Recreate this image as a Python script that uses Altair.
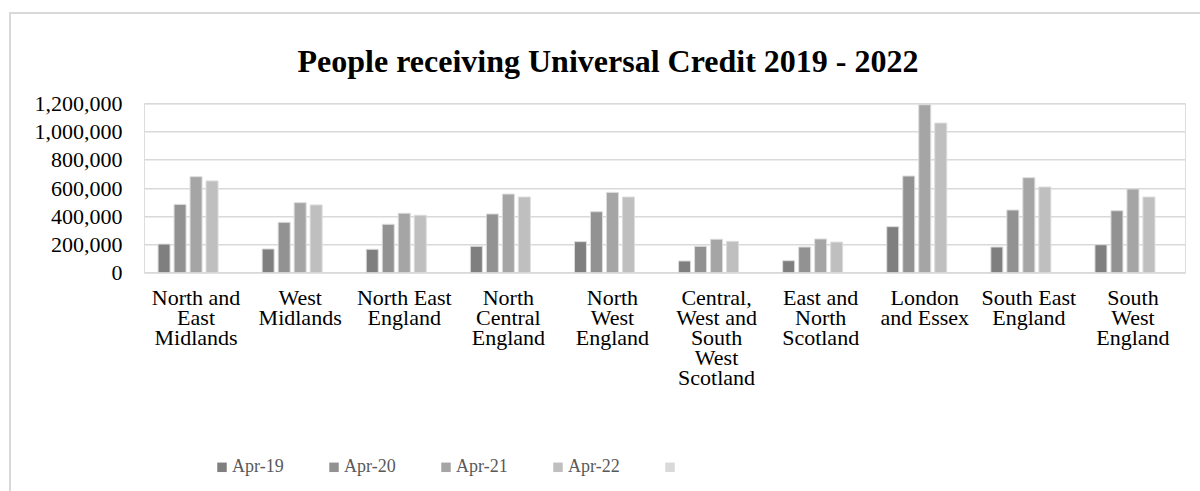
import altair as alt
import pandas as pd
import json

regions = [
    "North and East Midlands", "West Midlands", "North East England",
    "North Central England", "North West England",
    "Central, West and South West Scotland", "East and North Scotland",
    "London and Essex", "South East England", "South West England",
]
region_labels = [
    ["North and", "East", "Midlands"], ["West", "Midlands"], ["North East", "England"],
    ["North", "Central", "England"], ["North", "West", "England"],
    ["Central,", "West and", "South", "West", "Scotland"], ["East and", "North", "Scotland"],
    ["London", "and Essex"], ["South East", "England"], ["South", "West", "England"],
]
series = ["Apr-19", "Apr-20", "Apr-21", "Apr-22", " "]
colors = ["#7f7f7f", "#929292", "#a5a5a5", "#bfbfbf", "#d9d9d9"]

apr19 = [203000, 168000, 166000, 187000, 220000, 83000, 85000, 326000, 182000, 198000]
apr20 = [484000, 357000, 343000, 416000, 432000, 187000, 182000, 685000, 444000, 439000]
apr21 = [680000, 496000, 421000, 557000, 569000, 237000, 239000, 1190000, 673000, 593000]
apr22 = [650000, 480000, 407000, 536000, 536000, 222000, 217000, 1060000, 607000, 536000]

title_text = "People receiving Universal Credit 2019 - 2022"

rows = []
for s, vals in zip(series[:4], [apr19, apr20, apr21, apr22]):
    for r, v in zip(regions, vals):
        rows.append({"region": r, "series": s, "value": v})
df = pd.DataFrame(rows)

label_map = json.dumps(dict(zip(regions, region_labels)))

W, H = 1041, 169.4
PL, PT = 144, 103.3

bars = alt.Chart(df).mark_bar(stroke="#dcdcdc", strokeWidth=1).encode(
    x=alt.X("region:N", sort=regions,
            scale=alt.Scale(paddingInner=0, paddingOuter=0),
            axis=alt.Axis(title=None, labelAngle=0, domain=False, ticks=False,
                          labelExpr=f"{label_map}[datum.value]",
                          labelFont="Liberation Serif", labelFontSize=22,
                          labelColor="#000000", labelLineHeight=20,
                          labelPadding=15, labelOverlap=False, labelBaseline="top",
                          labelLimit=300)),
    xOffset=alt.XOffset("series:N",
                        scale=alt.Scale(domain=series, paddingInner=0.25, paddingOuter=0.878)),
    y=alt.Y("value:Q", scale=alt.Scale(domain=[0, 1200000], nice=False),
            axis=alt.Axis(title=None, values=[0, 200000, 400000, 600000, 800000, 1000000, 1200000],
                          format=",.0f", domain=False, ticks=False, labelPadding=22,
                          labelFont="Liberation Serif", labelFontSize=22, labelColor="#000000",
                          gridColor="#d9d9d9", gridWidth=1.5)),
    color=alt.Color("series:N",
                    scale=alt.Scale(domain=series, range=colors),
                    legend=alt.Legend(title=None, orient="none", legendX=69, legendY=355,
                                      direction="horizontal", columns=5, gridAlign="all",
                                      columnPadding=41, symbolType="square", symbolSize=90,
                                      symbolStrokeWidth=0, labelFont="Liberation Serif",
                                      labelFontSize=18, labelColor="#595959", labelOffset=1)),
)

border = alt.Chart(alt.Data(values=[{"k": 1}])).mark_rect(
    fill=None, stroke="#d9d9d9", strokeWidth=2
).encode(
    x=alt.value(10 - PL), x2=alt.value(1200 - PL + 20),
    y=alt.value(13 - PT), y2=alt.value(491 - PT + 20),
)

title = alt.Chart(alt.Data(values=[{"t": title_text}])).mark_text(
    font="Liberation Serif", fontSize=32, fontWeight="bold", color="#000000",
    align="center", baseline="middle"
).encode(
    text="t:N", x=alt.value(608 - PL), y=alt.value(62 - PT),
)

chart = alt.layer(border, title, bars).properties(
    width=W, height=H,
    autosize=alt.AutoSizeParams(type="none"),
    padding={"left": PL, "top": PT, "right": 1200 - PL - W, "bottom": 491 - PT - H},
).configure_view(stroke=None).configure(background="#ffffff")

chart.save("out.html", embed_options={"renderer": "svg", "actions": False})
